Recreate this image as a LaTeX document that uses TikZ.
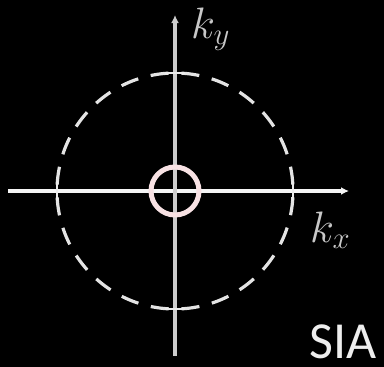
\RequirePackage{fix-cm}
\documentclass[tikz,border=0pt]{standalone}
\usepackage{fontspec}
\newfontfamily\labfont{Carlito}
\usetikzlibrary{arrows.meta}
\definecolor{axh}{RGB}{245,245,245}
\definecolor{axv}{RGB}{205,205,205}
\definecolor{ringc}{RGB}{248,226,228}
\definecolor{dashc}{RGB}{228,228,228}
\definecolor{labc}{RGB}{200,200,200}
\definecolor{siac}{RGB}{238,238,238}
\tikzset{
  axis/.style={line width=4pt,-{Latex[length=8pt,width=8pt]}},
  tickmark/.style={line width=2.5pt,draw=white!92!black},
  klabel/.style={text=labc,inner sep=0pt,anchor=base west,font=\fontsize{44}{44}\selectfont},
}
\begin{document}
\begin{tikzpicture}[x=1pt,y=-1pt]
\fill[black] (0,0) rectangle (384,367);
\useasboundingbox (0,0) rectangle (384,367);
\coordinate (O) at (175,191);
\coordinate (xl) at (8,191);
\coordinate (xr) at (349,191);
\coordinate (yb) at (175,356);
\coordinate (yt) at (175,15);
% dashed circle
\draw[dashc,line width=3.2pt,dash pattern=on 18pt off 12.9pt,dash phase=24.45pt] (O) circle[radius=118pt];
% axes
\draw[axis,draw=axh,fill=axh] (xl) -- (xr);
\draw[axis,draw=axv,fill=axv] (yb) -- (yt);
% ticks
\coordinate (tr) at (293,191);
\coordinate (tl) at (57,191);
\coordinate (tt) at (175,73);
\coordinate (tb) at (175,309);
\draw[tickmark] ([yshift=-10pt]tr) -- ([yshift=10pt]tr);
\draw[tickmark] ([yshift=-10pt]tl) -- ([yshift=10pt]tl);
\draw[tickmark] ([xshift=-10pt]tt) -- ([xshift=10pt]tt);
\draw[tickmark] ([xshift=-10pt]tb) -- ([xshift=10pt]tb);
% ring
\draw[ringc,line width=5pt] (O) circle[radius=24pt];
% labels
\node[klabel] (ky) at (191,38) {$k_y$};
\node[klabel] (kx) at (310,242) {$k_x$};
\node[text=siac,inner sep=0pt,anchor=base east,font=\labfont\fontsize{52}{52}\selectfont] (sia) at (377,358) {SIA};
\end{tikzpicture}
\end{document}
